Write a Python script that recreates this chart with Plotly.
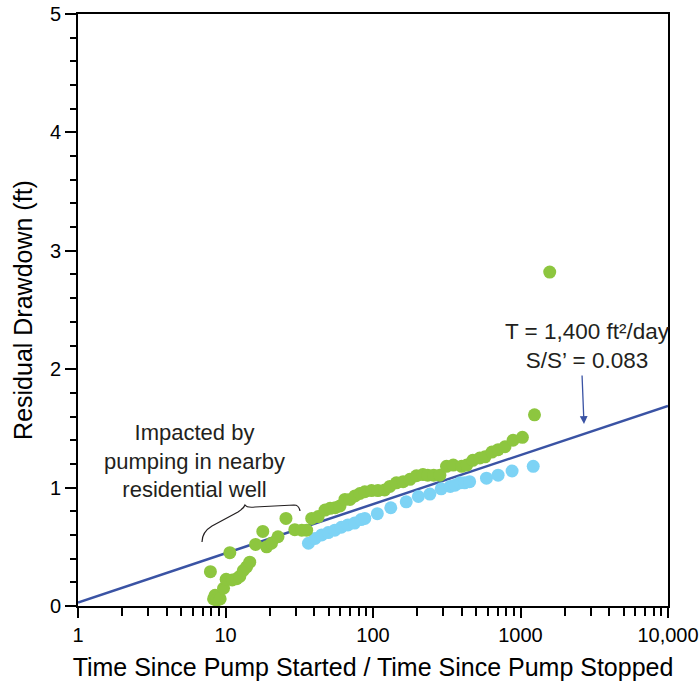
import plotly.graph_objects as go

# ---- data ----
green_x = [7.9, 8.3, 8.5, 8.7, 9.2, 9.7, 10.1, 10.7, 11.1, 11.9, 12.5, 13.2, 13.9, 14.6,
           16.0, 17.9, 19.0, 20.5, 22.7, 25.7, 29.5, 32.9, 35.5, 38.4, 42.5, 47.3, 51.2,
           55.4, 59.7, 64.5, 69.8, 75.4, 81.5, 88, 97.7, 108, 120, 130, 144, 160, 178,
           197, 218, 235, 258, 284, 315, 350, 399, 432, 475, 530, 575, 640, 705, 785,
           890, 1030, 1244, 1578]
green_y = [0.29, 0.06, 0.09, 0.05, 0.06, 0.15, 0.225, 0.45, 0.22, 0.23, 0.25, 0.30, 0.33, 0.37,
           0.52, 0.63, 0.50, 0.53, 0.585, 0.74, 0.645, 0.64, 0.64, 0.74, 0.755, 0.81, 0.825,
           0.83, 0.845, 0.90, 0.90, 0.93, 0.95, 0.965, 0.975, 0.975, 0.98, 1.01, 1.04, 1.05, 1.07,
           1.10, 1.11, 1.105, 1.105, 1.105, 1.18, 1.19, 1.18, 1.19, 1.23, 1.25, 1.26, 1.30, 1.32, 1.345,
           1.40, 1.425, 1.615, 2.82]

blue_x = [36.5, 40.5, 44.9, 49.7, 55.1, 61, 67.6, 75, 83, 88, 107, 132, 168, 203, 243,
          290, 334, 360, 389, 418, 452, 588, 705, 877, 1220]
blue_y = [0.53, 0.57, 0.60, 0.62, 0.64, 0.665, 0.685, 0.70, 0.73, 0.74, 0.78, 0.83, 0.88, 0.925, 0.945,
          0.99, 1.01, 1.02, 1.04, 1.04, 1.05, 1.08, 1.105, 1.14, 1.18]

fit_x = [1, 10000]
fit_y = [0.03, 1.69]

x_tickvals = [1, 10, 100, 1000, 10000]
x_ticktext = ["1", "10", "100", "1000", "10,000"]
y_tickvals = [0, 1, 2, 3, 4, 5]

# ---- layout helpers ----
W, H = 699, 685
L, R, T, B = 78, 668, 14, 606


def px(x):
    return (x - L) / (R - L)


def py(y):
    return (B - y) / (B - T)


FONT = "Arial, Liberation Sans, sans-serif"
TXT = "#231f20"

fig = go.Figure()
fig.add_trace(go.Scatter(x=fit_x, y=fit_y, mode="lines",
                         line=dict(color="#3a53a4", width=2.5), hoverinfo="skip"))
fig.add_trace(go.Scatter(x=blue_x, y=blue_y, mode="markers",
                         marker=dict(color="#7dd3f5", size=13, line=dict(width=0))))
fig.add_trace(go.Scatter(x=green_x, y=green_y, mode="markers",
                         marker=dict(color="#8dc63f", size=13, line=dict(width=0))))

minor_x = [m * 10 ** d for d in range(4) for m in range(2, 10)]

fig.update_layout(
    width=W, height=H,
    margin=dict(l=L, r=W - R, t=T, b=H - B, pad=0, autoexpand=False),
    plot_bgcolor="white", paper_bgcolor="white",
    showlegend=False,
    font=dict(family=FONT, color=TXT, size=20),
    xaxis=dict(type="log", range=[0, 4], showgrid=False, zeroline=False,
               automargin=False,
               showline=True, linecolor="black", linewidth=2, mirror=True,
               ticks="outside", ticklen=10, tickwidth=1.5, tickcolor="black",
               tickmode="array", tickvals=x_tickvals, ticktext=x_ticktext,
               tickfont=dict(size=20, color="black"),
               minor=dict(tickmode="array", tickvals=minor_x, ticks="outside",
                          ticklen=8, tickwidth=1.5, tickcolor="black", showgrid=False),
               title=dict(text="Time Since Pump Started / Time Since Pump Stopped",
                          font=dict(size=25, color="black"), standoff=13)),
    yaxis=dict(range=[0, 5], showgrid=False, zeroline=False,
               automargin=False,
               showline=True, linecolor="black", linewidth=2, mirror=True,
               ticks="outside", ticklen=11, tickwidth=1.5, tickcolor="black",
               tickmode="array", tickvals=y_tickvals,
               tickfont=dict(size=20, color="black"),
               minor=dict(dtick=0.2, ticks="outside", ticklen=6, tickwidth=1.5,
                          tickcolor="black", showgrid=False),
               title=dict(text="Residual Drawdown (ft)",
                          font=dict(size=25, color="black"), standoff=10)),
)

# annotation text
fig.add_annotation(x=px(194), y=py(461), xref="paper", yref="paper",
                   text="Impacted by<br>pumping in nearby<br>residential well",
                   showarrow=False, font=dict(size=22, color=TXT, family=FONT),
                   align="center", xanchor="center", yanchor="middle")
fig.add_annotation(x=px(587), y=py(346), xref="paper", yref="paper",
                   text="T = 1,400 ft²/day<br>S/S’ = 0.083",
                   showarrow=False, font=dict(size=22.5, color=TXT, family=FONT),
                   align="center", xanchor="center", yanchor="middle")

# arrow
fig.add_annotation(x=px(584), y=py(424), xref="paper", yref="paper", text="",
                   showarrow=True, arrowhead=2, arrowsize=1.2, arrowwidth=1.3,
                   arrowcolor="#3a53a4", ax=-2, ay=-50)

# brace
pts = [(202, 542), (202, 532), (212, 526), (238, 512), (244, 508), (245, 505),
       (247, 508), (255, 507), (294, 505), (299, 505), (300, 511)]
p = [(px(a), py(b)) for a, b in pts]
path = (f"M {p[0][0]},{p[0][1]} Q {p[1][0]},{p[1][1]} {p[2][0]},{p[2][1]} "
        f"L {p[3][0]},{p[3][1]} Q {p[4][0]},{p[4][1]} {p[5][0]},{p[5][1]} "
        f"Q {p[6][0]},{p[6][1]} {p[7][0]},{p[7][1]} L {p[8][0]},{p[8][1]} "
        f"Q {p[9][0]},{p[9][1]} {p[10][0]},{p[10][1]}")
fig.add_shape(type="path", path=path, xref="paper", yref="paper",
              line=dict(color="#231f20", width=1.2))

fig.write_html("out.html")
